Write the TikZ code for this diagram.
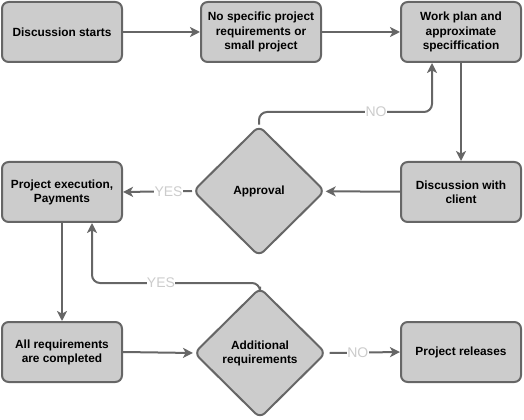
\documentclass[tikz,border=0pt]{standalone}
\usepackage{fontspec}
\setmainfont{Liberation Sans}
\usetikzlibrary{shapes.geometric,arrows.meta}
\definecolor{boxfill}{HTML}{CCCCCC}
\definecolor{boxline}{HTML}{666666}
\definecolor{lblgray}{HTML}{CCCCCC}
\tikzset{
  stepbox/.style={draw=boxline, fill=boxfill, line width=1.5pt, rounded corners=5pt,
    minimum width=90pt, minimum height=45pt, inner sep=1pt, align=center,
    font=\bfseries\fontsize{8.9pt}{10.6pt}\selectfont},
  decision/.style={diamond, draw=boxline, fill=boxfill, line width=1.5pt, rounded corners=5pt,
    minimum width=99pt, minimum height=98pt, inner sep=0pt, align=center,
    font=\bfseries\fontsize{8.9pt}{10.6pt}\selectfont},
  flow/.style={draw=boxline, line width=1.5pt, -{Stealth[length=7.5pt,width=7.5pt,inset=2pt]}},
  lbl/.style={text=lblgray, fill=white, font=\fontsize{10.5pt}{11pt}\selectfont, inner sep=0.3pt}
}
\begin{document}
\begin{tikzpicture}[x=0.75pt,y=-0.75pt]
\useasboundingbox (0,0) rectangle (524,420);
\node[stepbox] (ds) at (62,32) {Discussion starts};
\node[stepbox] (ns) at (261,32) {No specific project\\requirements or\\small project};
\node[stepbox] (wp) at (461,32) {Work plan and\\approximate\\speciffication};
\node[stepbox] (pe) at (62,192) {Project execution,\\Payments};
\node[decision] (ap) at (259,191) {Approval};
\node[stepbox] (dc) at (461,192) {Discussion with\\client};
\node[stepbox] (ar) at (62,352) {All requirements\\are completed};
\node[decision] (ad) at (260,353) {Additional\\requirements};
\node[stepbox] (pr) at (461,352) {Project releases};
\coordinate (n1) at (432,112);
\coordinate (y1) at (92,283);

\draw[flow] (ds) -- (ns);
\draw[flow] (ns) -- (wp);
\draw[flow] (wp.south -| 461,0) -- (dc.north -| 461,0);
\draw[flow] (dc) -- (ap);
\draw[flow] (ap.west) -- node[lbl, pos=0.34] {YES} (pe.east);
\draw[flow, rounded corners=6pt] (ap.north) |- (n1) -- (wp.south -| n1);
\node[lbl] (lno1) at (376,112) {NO};
\draw[flow] (pe.south) -- (ar.north);
\draw[flow, rounded corners=6pt] (ad.north) |- (y1) -- (pe.south -| y1);
\node[lbl] (lyes2) at (161,283) {YES};
\draw[flow] (ar.east) -- (ad.west);
\draw[flow] ([xshift=2pt]ad.east) -- node[lbl, pos=0.4] {NO} (pr.west);
\end{tikzpicture}
\end{document}
